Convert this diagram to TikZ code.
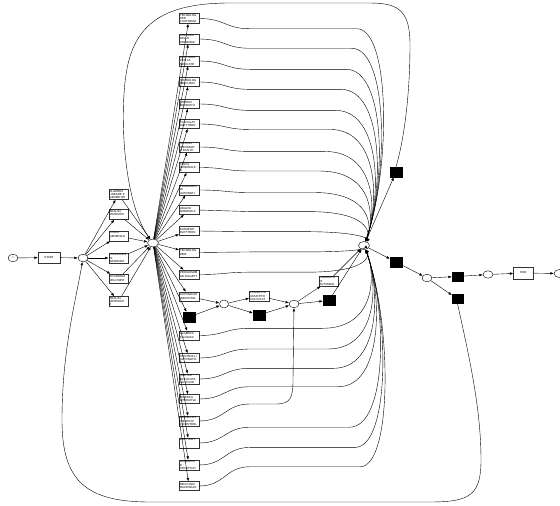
\documentclass[tikz,border=0pt]{standalone}
\usepackage{fontspec}
\setmainfont{Liberation Sans}
\usetikzlibrary{arrows.meta,calc,shapes.geometric}

\begin{document}
\begin{tikzpicture}[x=1pt,y=-1pt,
  trans/.style={draw=black!80, line width=0.4pt, fill=white, inner sep=0.7pt,
    font=\fontsize{2.9}{3.3}\selectfont, align=left, text width=18pt,
    minimum height=9pt},
  silent/.style={draw, fill=black, minimum width=12pt, minimum height=10pt, inner sep=0pt},
  place/.style={draw, ellipse, fill=white, line width=0.4pt, minimum width=10pt,
    minimum height=7.5pt, inner sep=0pt},
  arc/.style={-{Latex[length=3.4pt,width=2.6pt]}, line width=0.4pt}
]
\useasboundingbox (0,0) rectangle (560,506);

% start of the net
\node[place] (p0) at (13,258) {\fontsize{2.5}{3}\selectfont 1};
\node[trans, text width=, minimum width=22pt, minimum height=11pt, align=center] (start) at (49,257.5) {START};
\node[place] (p1) at (83,258) {};

% first-year courses
\foreach \n/\y/\t in {
  l1/194.5/{ALGEBRA\\LINEARE E\\GEOMETRI},
  l2/214.5/{ANALISI\\MATEMATI\\I},
  l3/236/{FISICA\\GENERALE\\I},
  l4/258/{FONDAMEN\\DI\\INFORMAT},
  l5/278.5/{ECONOMIA\\DELL'IMPR},
  l6/301.5/{ANALISI\\MATEMATI\\II}}
  \node[trans] (\n) at (118.5,\y) {\t};

\node[place, minimum width=11pt, minimum height=8pt] (bp) at (153,243) {};

% courses of the later years
\foreach \n/\y/\t in {
  c1/18.5/{TECNOLOG\\PER\\L'AUTOMAZ},
  c2/39/{CALCOLO\\DELLE\\PROBABILI},
  c3/61/{ELETTRON\\PER LA\\MECCATR},
  c4/82/{TECNOLOG\\MECCANIC},
  c5/104/{SISTEMI\\OPERATIVI},
  c6/124/{CALCOLAT\\ELETTRON},
  c7/147/{SISTEMI\\INFORMAT\\E BASI DI},
  c8/167.5/{FISICA\\GENERALE\\II},
  c9/190/{FONDAMEN\\DI\\AUTOMATI},
  c10/210/{ANALISI\\NUMERICA},
  c11/231/{ELEMENTI\\ELETTRON},
  c12/252.5/{TECNOLOG\\WEB},
  c13/274.5/{PROGRAMM\\AD OGGETT},
  c14/296.5/{AUTOMAZIO\\INDUSTRIA},
  c16/335.5/{ALGEBRA\\E LOGICA},
  c17/358/{CONTROLLI\\AUTOMATIC},
  c18/379/{STATISTI\\APPLICATA\\ALL'ECON},
  c19/399/{RICERCA\\OPERATIVA},
  c20/421/{MODELLIST\\IDENTIFIC\\E CONTROL},
  c21/443/{ELETTROT\\\mbox{}\\\mbox{}},
  c22/465/{ALGORITM\\E\\STRUTTUR},
  c23/486/{MECCANIC\\RAZIONALE}}
  \node[trans] (\n) at (189,\y) {\t};
\node[silent] (k1) at (189,317) {};

% the automation track
\node[place, minimum width=9pt, minimum height=8pt] (pa) at (224,304) {};
\node[trans] (prog) at (259,296) {PROGETTO\\ASSISTITO\\CALCOLAT};
\node[silent] (k2) at (259,315) {};
\node[place] (pb) at (294,304) {};
\node[trans] (lab) at (328.5,281) {LABORATO\\DI\\AUTOMAZI};
\node[silent] (k3) at (329,300.5) {};

% joining place and the end of the net
\node[place, minimum width=11pt, minimum height=8pt] (pr) at (364,245.5) {};
\node[silent] (k4) at (396,172) {};
\node[silent] (k5) at (396,262) {};
\node[place] (pc) at (427,278) {};
\node[silent, minimum width=11pt, minimum height=9pt] (k6) at (457.5,276.5) {};
\node[silent, minimum width=11pt, minimum height=9pt] (k7) at (457.5,299) {};
\node[place] (pd) at (488,274.5) {};
\node[trans, text width=, minimum width=20pt, minimum height=12pt, align=center] (end) at (523.5,273) {END};
\node[place, minimum width=11pt, minimum height=8pt] (pe) at (559.5,273.5) {};

% arcs of the first part
\draw[arc] (p0) -- (start);
\draw[arc] (start) -- (p1);
\foreach \n in {l1,l2,l3,l4,l5,l6} {
  \draw[arc] (p1) -- (\n);
  \draw[arc] (\n) -- (bp);
}

% arcs out of the central place
\foreach \n in {c1,c2,c3,c4,c5,c6,c7,c8,c9,c10,c11,c12,c13,c14,k1,c16,c17,c18,c19,c20,c21,c22,c23}
  \draw[arc] (bp) -- (\n);

% arcs into the joining place: level run, then a bend into the place
\foreach \n/\y in {c1/18.5,c2/39,c3/61,c4/82,c5/104,c6/124,c7/147,c8/167.5,c9/190,
  c10/210,c11/231,c12/252.5,c13/274.5,c16/335.5,c17/358,c18/379,c19/399,
  c21/443,c22/465,c23/486} {
  \pgfmathsetmacro\dy{245.5-\y}
  \pgfmathsetmacro\adx{abs(\dy)}
  \pgfmathsetmacro\off{\dy>0 ? 0.045*\dy : 0.08*\dy}
  \pgfmathsetmacro\yh{\y+(\off)}
  \pgfmathsetmacro\xv{366+24*\adx/220}
  \pgfmathsetmacro\xs{max(262,300+55*\adx/220)}
  \pgfmathsetmacro\yc{\yh+0.65*(245.5-\yh)}
  \draw[arc] (\n.east) .. controls (225,\y) and (225,\yh) .. (250,\yh) -- (\xs,\yh)
    .. controls (\xv,\yh) and (\xv,\yc) .. (pr);
}

% automation track arcs
\draw[arc] (c14) -- (pa);
\draw[arc] (k1) -- (pa);
\draw[arc] (pa) -- (prog);
\draw[arc] (pa) -- (k2);
\draw[arc] (prog) -- (pb);
\draw[arc] (k2) -- (pb);
\draw[arc] (c20.east) .. controls (225,421) and (225,404) .. (250,404) -- (276,404)
  .. controls (291,404) and (293,397) .. (293,380) -- (pb);
\draw[arc] (pb) -- (lab);
\draw[arc] (pb) -- (k3);
\draw[arc] (lab) -- (pr);
\draw[arc] (k3) -- (pr);

% end of the net
\draw[arc] (pr) -- (k4);
\draw[arc] (pr) -- (k5);
\draw[arc] (k5) -- (pc);
\draw[arc] (pc) -- (k6);
\draw[arc] (pc) -- (k7);
\draw[arc] (k6) -- (pd);
\draw[arc] (pd) -- (end);
\draw[arc] (end) -- (pe);

% loop back over the top
\draw[arc] (k4.north) .. controls (404,140) and (410,95) .. (410,45)
  .. controls (410,12) and (400,3) .. (370,3) -- (230,3)
  .. controls (170,3) and (140,20) .. (129,60)
  .. controls (118,100) and (122,200) .. (bp);

% loop back under the bottom
\draw[arc] (k7.south) .. controls (470,360) and (481,410) .. (481,460)
  .. controls (481,495) and (470,502) .. (430,502) -- (150,502)
  .. controls (85,502) and (62,480) .. (62,420)
  .. controls (62,350) and (76,300) .. (p1);
\end{tikzpicture}
\end{document}
